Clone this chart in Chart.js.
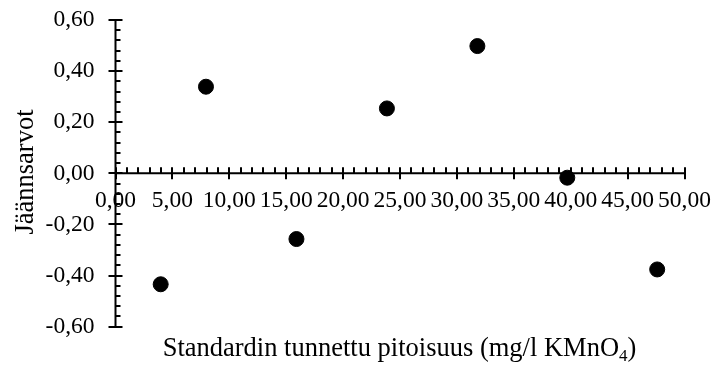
<!DOCTYPE html>
<html>
<head>
<meta charset="utf-8">
<script src="https://cdn.jsdelivr.net/npm/chart.js@4/dist/chart.umd.min.js"></script>
<style>
  html, body { margin: 0; padding: 0; background: #fff; }
  #wrap { width: 713px; height: 365px; position: relative; }
</style>
</head>
<body>
<div id="wrap"><canvas id="residualChart"></canvas></div>
<script>
// Standard concentrations (mg/l KMnO4) and their residuals
const pitoisuus = [3.97, 7.95, 15.9, 23.85, 31.8, 39.7, 47.6];
const jaannos = [-0.434, 0.339, -0.257, 0.254, 0.498, -0.017, -0.376];

// Axis ranges and tick steps
const xRange = [0, 50];
const yRange = [-0.6, 0.6];
const xMajor = 5, xMinor = 1;
const yMajor = 0.2, yMinor = 0.04;

const yTitle = 'Jäännsarvot';
const xTitle = 'Standardin tunnettu pitoisuus (mg/l KMnO';
const xTitleSub = '4';
const xTitleEnd = ')';

const FONT = '"Liberation Serif", "Times New Roman", serif';

function fmt(v) {
    return v.toFixed(2).replace('.', ',');
}

// Axis lines crossing at zero with Excel-style tick marks, plus the axis titles
const crossAxes = {
    id: 'crossAxes',
    beforeDatasetsDraw(chart) {
        const ctx = chart.ctx;
        const xs = chart.scales.x, ys = chart.scales.y;
        const x0 = xs.getPixelForValue(0);
        const y0 = ys.getPixelForValue(0);
        ctx.save();
        ctx.strokeStyle = '#000';
        ctx.lineWidth = 2;
        ctx.beginPath();
        ctx.moveTo(x0, ys.top);
        ctx.lineTo(x0, ys.bottom);
        ctx.moveTo(xs.left, y0);
        ctx.lineTo(xs.right, y0);

        // vertical axis ticks
        const ny = Math.round((yRange[1] - yRange[0]) / yMinor);
        for (let i = 0; i <= ny; i++) {
            const v = yRange[0] + i * yMinor;
            const py = Math.round(ys.getPixelForValue(v));
            const major = Math.abs(v / yMajor - Math.round(v / yMajor)) < 1e-6;
            ctx.moveTo(major ? x0 - 7 : x0, py);
            ctx.lineTo(major ? x0 + 7 : x0 + 5, py);
        }
        // horizontal axis ticks
        const nx = Math.round((xRange[1] - xRange[0]) / xMinor);
        for (let i = 0; i <= nx; i++) {
            const v = xRange[0] + i * xMinor;
            const px = Math.round(xs.getPixelForValue(v));
            const major = i % Math.round(xMajor / xMinor) === 0;
            ctx.moveTo(px, major ? y0 + 6 : y0);
            ctx.lineTo(px, y0 - 6);
        }
        ctx.stroke();
        ctx.restore();
    },
    afterDraw(chart) {
        const ctx = chart.ctx;
        ctx.save();
        ctx.fillStyle = '#000';
        ctx.textBaseline = 'alphabetic';

        // y title, rotated
        ctx.font = '26.5px ' + FONT;
        ctx.translate(33, 172);
        ctx.rotate(-Math.PI / 2);
        ctx.textAlign = 'center';
        ctx.fillText(yTitle, 0, 0);
        ctx.setTransform(1, 0, 0, 1, 0, 0);

        // x title with subscript
        const big = '26.5px ' + FONT, small = '17px ' + FONT;
        ctx.font = big;
        const w1 = ctx.measureText(xTitle).width;
        const w3 = ctx.measureText(xTitleEnd).width;
        ctx.font = small;
        const w2 = ctx.measureText(xTitleSub).width;
        let x = 399.5 - (w1 + w2 + w3) / 2;
        const base = 356;
        ctx.textAlign = 'left';
        ctx.font = big;
        ctx.fillText(xTitle, x, base);
        x += w1;
        ctx.font = small;
        ctx.fillText(xTitleSub, x, base + 5);
        x += w2;
        ctx.font = big;
        ctx.fillText(xTitleEnd, x, base);
        ctx.restore();
    }
};

const points = pitoisuus.map((v, i) => ({ x: v, y: jaannos[i] }));

new Chart(document.getElementById('residualChart'), {
    type: 'scatter',
    data: {
        datasets: [{
            data: points,
            backgroundColor: '#000',
            borderColor: '#000',
            pointRadius: 7.5,
            pointHoverRadius: 7.5,
            clip: false
        }]
    },
    options: {
        responsive: true,
        maintainAspectRatio: false,
        animation: false,
        events: [],
        layout: {
            padding: { left: 0, right: 28.5, top: 20, bottom: 38.3 }
        },
        plugins: {
            legend: { display: false },
            tooltip: { enabled: false }
        },
        scales: {
            x: {
                type: 'linear',
                position: { y: 0 },
                min: xRange[0],
                max: xRange[1],
                grid: { display: false, drawTicks: false },
                border: { display: false },
                afterFit(scale) {
                    scale.paddingLeft = 0;
                    scale.paddingRight = 0;
                },
                ticks: {
                    stepSize: xMajor,
                    padding: 13,
                    maxRotation: 0,
                    autoSkip: false,
                    color: '#000',
                    font: { family: FONT, size: 23.5 },
                    callback: v => fmt(v)
                }
            },
            y: {
                type: 'linear',
                position: 'left',
                min: yRange[0],
                max: yRange[1],
                grid: { display: false, drawTicks: false },
                border: { display: false },
                afterFit(scale) {
                    scale.width = 115.5;
                    scale.paddingTop = 0;
                    scale.paddingBottom = 0;
                },
                ticks: {
                    stepSize: yMajor,
                    padding: 21,
                    color: '#000',
                    font: { family: FONT, size: 23.5 },
                    callback: v => fmt(v)
                }
            }
        }
    },
    plugins: [crossAxes]
});
</script>
</body>
</html>
